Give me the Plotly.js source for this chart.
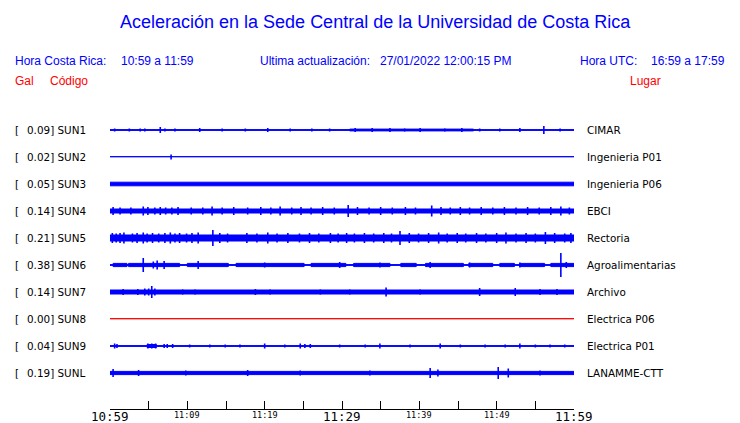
<!DOCTYPE html>
<html><head><meta charset="utf-8">
<script src="https://cdn.plot.ly/plotly-3.0.1.min.js"></script>
<style>html,body{margin:0;padding:0;background:#fff}#chart{width:740px;height:423px}</style>
</head><body><div id="chart"></div>
<script>
// ---- data ----
const stations = ['SUN1','SUN2','SUN3','SUN4','SUN5','SUN6','SUN7','SUN8','SUN9','SUNL'];
const places = ['CIMAR','Ingenieria P01','Ingenieria P06','EBCI','Rectoria','Agroalimentarias','Archivo','Electrica P06','Electrica P01','LANAMME-CTT'];
const peakGal = ['0.09','0.02','0.05','0.14','0.21','0.38','0.14','0.00','0.04','0.19'];

// minutes after 10:59
const tickMinutes = [0,5,10,15,20,25,30,35,40,45,50,55,60];
const labelMinutes = [0,10,20,30,40,50,60];
const labelText = ['10:59','11:09','11:19','11:29','11:39','11:49','11:59'];

// noise bands: [start min, end min, half amplitude]
const band_SUN1 = [[0,60,0.4],[31,47,0.9]];
const band_SUN2 = [[0,60,0.3]];
const band_SUN3 = [[0,60,1.8]];
const band_SUN4 = [[0,60,2.0]];
const band_SUN5 = [[0,60,3.0]];
const band_SUN6 = [[0,60,0.4],[0.4,2.2,1.6],[2.4,9.0,1.6],[10.0,15.3,1.6],[16.3,25.1,1.6],[26.0,30.5,1.6],[31.5,36.2,1.6],[37.6,39.6,1.6],[40.8,45.7,1.6],[46.4,49.5,1.6],[50.4,52.3,1.6],[53.0,56.2,1.6],[57.0,60,1.6]];
const band_SUN7 = [[0,60,2.0]];
const band_SUN8 = [[0,60,0.3]];
const band_SUN9 = [[0,60,0.4],[4.8,6.0,1.5]];
const band_SUNL = [[0,60,1.6]];

// bursts: times (min) and half amplitudes
const burstT_SUN1 = [0.6,2.5,3.9,4.5,6.5,7.1,8.4,11.6,14.5,17.5,20.4,23.3,26.1,28.4,31.7,33.9,36.2,38.1,40.1,43.3,45.5,47.8,50.4,53.0,56.1,58.2];
const burstA_SUN1 = [1.5,1.5,1.5,1.5,3,1.5,1.5,2,1.5,1.5,2,1.5,1.5,1.5,2,2,2,1.5,2,1.5,2,1.5,1.5,2,4,1.5];
const burstT_SUN2 = [7.9];
const burstA_SUN2 = [2.5];
const burstT_SUN3 = [];
const burstA_SUN3 = [];
const burstT_SUN4 = [0.4,1.3,2.7,4.3,4.9,5.8,6.5,7.2,8.0,8.8,10.5,12.0,13.2,14.5,16.0,17.8,19.5,20.8,22.0,23.5,24.7,26.0,27.5,29.0,30.8,32.0,33.5,35.0,36.5,38.2,39.5,41.6,42.8,44.0,45.3,46.5,48.0,49.5,51.0,52.5,54.0,55.5,57.0,58.3,59.4];
const burstA_SUN4 = [4,3.5,3.5,4.5,4,3.5,4,3.5,3.5,4,3.5,3.5,4.5,3.5,4,3.5,4,3.5,4.5,3.5,4,3.5,4,3.5,6,4,3.5,4,3.5,4,3.5,5.5,4,3.5,4,3.5,4,3.5,4,3.5,4,3.5,4,4.5,3.5];
const burstT_SUN5 = [0.3,0.8,1.3,1.8,2.9,3.5,4.3,4.8,5.5,6.3,7.1,7.8,8.4,9.0,9.9,10.6,11.4,13.3,14.2,15.2,17.7,19.0,20.4,21.6,23.0,24.5,25.8,27.0,28.5,29.5,30.6,31.6,32.9,34.1,35.4,36.4,37.5,38.7,39.9,41.2,42.5,43.6,44.9,46.0,47.4,48.6,50.0,51.2,52.5,53.8,55.0,56.3,57.5,58.8,59.6];
const burstA_SUN5 = [5,4.5,5,5.5,4.5,5,5.5,4.5,5,4.5,5,5.5,4.5,5,4.5,5,5.5,8,5,4.5,5,4.5,5.5,4.5,5,4.5,5,4.5,5,4.5,5,4.5,5,4.5,5,4.5,7,5,4.5,5,5.5,4.5,5,4.5,5,4.5,5,5.5,4.5,5,4.5,6,5,4.5,5];
const burstT_SUN6 = [4.3,5.6,6.1,7.0,11.4,20.0,29.7,34.9,41.4,46.5,53.0,58.3,59.0];
const burstA_SUN6 = [7,3.5,4.5,4,4,2.5,3,2.5,3,2.5,2.5,12,3];
const burstT_SUN7 = [1.7,3.6,4.5,5.0,5.4,5.8,9.4,11.0,18.8,20.7,27.2,31.0,35.7,40.1,47.8,52.4,55.6,57.8];
const burstA_SUN7 = [3,3,3.5,3.5,6,3.5,2.5,2.5,3,2.5,2.5,2.5,4.5,2.5,4,4,3,3];
const burstT_SUN8 = [];
const burstA_SUN8 = [];
const burstT_SUN9 = [0.6,0.9,4.9,5.4,5.9,7.0,7.4,8.1,10.3,12.9,14.9,16.8,20.0,22.6,24.6,25.2,25.9,29.7,33.0,34.9,38.8,42.7,45.3,48.5,51.1,53.0,55.0,56.9,58.8];
const burstA_SUN9 = [2.5,2,2.5,2.5,2.5,2,2,2,1.5,1.5,1.5,1.5,2.5,1.5,2.5,2,2,1.5,1.5,2.5,1.5,2.5,1.5,1.5,1.5,2.5,1.5,1.5,1.5];
const burstT_SUNL = [0.4,3.7,9.8,17.8,24.6,33.6,41.4,42.4,50.2,51.5,55.6];
const burstA_SUNL = [4,3,2.5,3,2.5,2.5,5,3.5,6,4.5,2.5];

const bands = [band_SUN1,band_SUN2,band_SUN3,band_SUN4,band_SUN5,band_SUN6,band_SUN7,band_SUN8,band_SUN9,band_SUNL];
const burstT = [burstT_SUN1,burstT_SUN2,burstT_SUN3,burstT_SUN4,burstT_SUN5,burstT_SUN6,burstT_SUN7,burstT_SUN8,burstT_SUN9,burstT_SUNL];
const burstA = [burstA_SUN1,burstA_SUN2,burstA_SUN3,burstA_SUN4,burstA_SUN5,burstA_SUN6,burstA_SUN7,burstA_SUN8,burstA_SUN9,burstA_SUNL];

// ---- layout geometry ----
const W = 740, H = 423;
const M = {l:110, r:166, t:100, b:14};
const PW = W - M.l - M.r, PH = H - M.t - M.b;
const ROW = 27;
const PAD = 2; // annotation box padding
const px = x => (x - PAD - M.l) / PW;
const py = y => (H - M.b - y) / PH;
const rowY = i => -ROW * i;

const BLUE = '#0000ff';
const traces = [];
stations.forEach((s, i) => {
  const o = rowY(i);
  const col = parseFloat(peakGal[i]) === 0 ? '#ff0000' : BLUE;
  const bx = [], by = [];
  bands[i].forEach(([t0, t1, h]) => {
    bx.push(t0, t1, t1, t0, t0, null);
    by.push(o + h, o + h, o - h, o - h, o + h, null);
  });
  traces.push({x: bx, y: by, mode: 'lines', fill: 'toself', fillcolor: col,
    line: {color: col, width: 1}, hoverinfo: 'skip', showlegend: false});
  const sx = [], sy = [];
  burstT[i].forEach((t, k) => {
    sx.push(t, t, null);
    sy.push(o - burstA[i][k], o + burstA[i][k], null);
  });
  if (sx.length) traces.push({x: sx, y: sy, mode: 'lines',
    line: {color: col, width: 1.6}, hoverinfo: 'skip', showlegend: false});
});

const hdr = 'Liberation Sans, Arial, sans-serif';
const lab = 'DejaVu Sans, sans-serif';
const LAB = 10.4;
const ann = [];
function txt(text, x, y, size, color, family, anchor) {
  ann.push({text, x: anchor === 'center' ? (x - M.l) / PW : px(x), y: py(y), xref: 'paper', yref: 'paper', showarrow: false,
    xanchor: anchor || 'left', yanchor: 'middle', font: {size, color, family}});
}
txt('Aceleración en la Sede Central de la Universidad de Costa Rica', 375, 22, 18, BLUE, hdr, 'center');
txt('Hora Costa Rica:', 15, 61, 12, BLUE, hdr);
txt('10:59 a 11:59', 121, 61, 12, BLUE, hdr);
txt('Ultima actualización:', 260, 61, 12, BLUE, hdr);
txt('27/01/2022 12:00:15 PM', 380, 61, 12, BLUE, hdr);
txt('Hora UTC:', 580, 61, 12, BLUE, hdr);
txt('16:59 a 17:59', 651, 61, 12, BLUE, hdr);
txt('Gal', 15, 81, 12, '#ff0000', hdr);
txt('Código', 50, 81, 12, '#ff0000', hdr);
txt('Lugar', 630, 81, 12, '#ff0000', hdr);

stations.forEach((s, i) => {
  const yv = rowY(i);
  ann.push({text: '[', x: px(15), y: yv, xref: 'paper', yref: 'y', showarrow: false,
    xanchor: 'left', yanchor: 'middle', font: {size: LAB, color: '#000', family: lab}});
  ann.push({text: peakGal[i] + '] ' + s, x: px(27), y: yv, xref: 'paper', yref: 'y', showarrow: false,
    xanchor: 'left', yanchor: 'middle', font: {size: LAB, color: '#000', family: lab}});
  ann.push({text: places[i], x: px(587), y: yv, xref: 'paper', yref: 'y', showarrow: false,
    xanchor: 'left', yanchor: 'middle', font: {size: LAB, color: '#000', family: lab}});
});

labelMinutes.forEach((m, k) => {
  const big = k % 3 === 0;
  ann.push({text: labelText[k], x: m, y: py(big ? 416 : 414.5), xref: 'x', yref: 'paper', showarrow: false,
    xanchor: 'center', yanchor: 'middle', borderpad: 0,
    font: {size: big ? 12.5 : 8.5, color: '#000', family: 'DejaVu Sans Mono, monospace'}});
});

const layout = {
  width: W, height: H, margin: M, paper_bgcolor: '#fff', plot_bgcolor: '#fff',
  showlegend: false, hovermode: false,
  xaxis: {range: [0, 60], tickvals: tickMinutes, showticklabels: false, ticks: 'inside', ticklen: 8,
    tickcolor: '#000', tickwidth: 1, showline: true, linecolor: '#000', linewidth: 1,
    showgrid: false, zeroline: false, fixedrange: true},
  yaxis: {range: [30 - PH, 30], visible: false, showgrid: false, zeroline: false, fixedrange: true},
  annotations: ann
};
Plotly.newPlot('chart', traces, layout, {staticPlot: true, displayModeBar: false});
</script>
</body></html>
